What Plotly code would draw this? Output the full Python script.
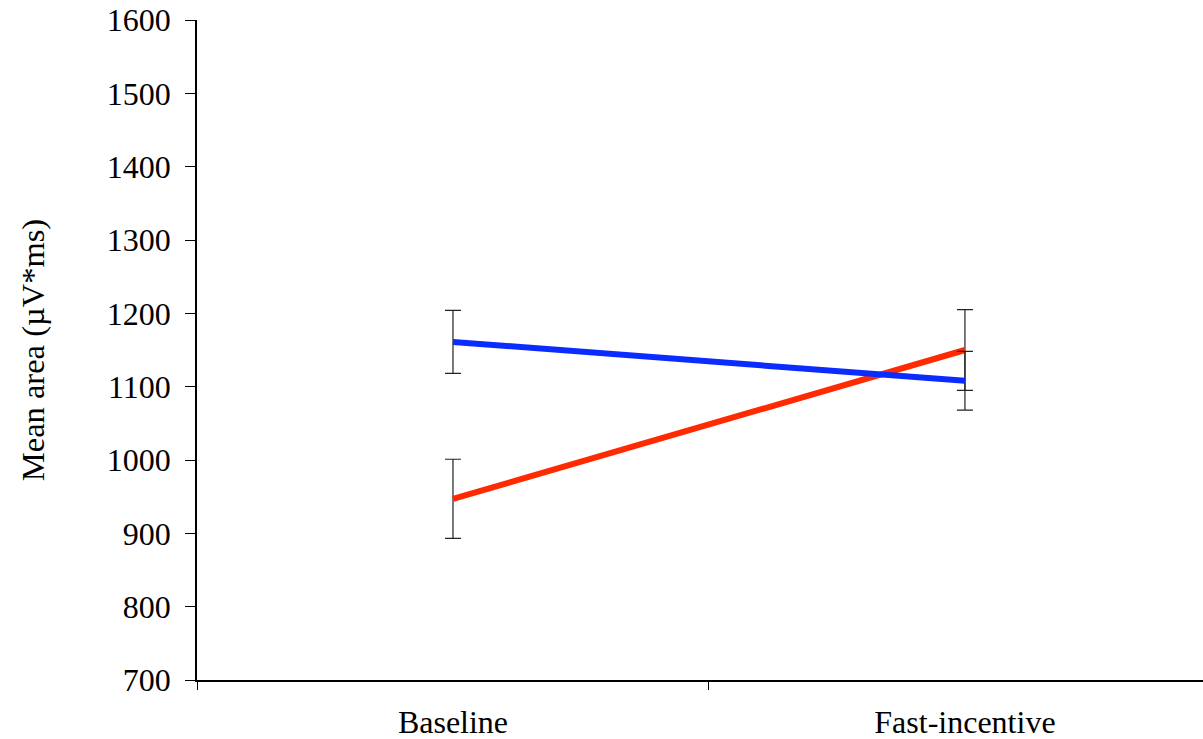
import plotly.graph_objects as go

categories = ["Baseline", "Fast-incentive"]
blue_vals = [1161, 1108]
blue_err = [43, 40]
red_vals = [947, 1150]
red_err = [54, 55]
y_ticks = [700, 800, 900, 1000, 1100, 1200, 1300, 1400, 1500, 1600]

font_family = "Liberation Serif"

fig = go.Figure()
for vals, err, color in [(red_vals, red_err, "#ff2a00"), (blue_vals, blue_err, "#0a2cff")]:
    fig.add_trace(go.Scatter(
        x=categories, y=vals, mode="lines",
        line=dict(color=color, width=6),
        error_y=dict(type="data", array=err, visible=True, color="#222222",
                     thickness=1.2, width=8),
        showlegend=False,
    ))

fig.update_layout(
    width=1203, height=739,
    margin=dict(l=197, r=0, t=20, b=59),
    paper_bgcolor="white", plot_bgcolor="white",
    font=dict(family=font_family, color="black"),
)
fig.update_xaxes(
    type="category", range=[-0.5, 1.465], automargin=False,
    showline=True, linecolor="black", linewidth=1.5,
    ticks="outside", tickson="boundaries", ticklen=8, tickcolor="black",
    tickfont=dict(size=32, family=font_family), showgrid=False,
    ticklabelstandoff=13, ticklabeloverflow="allow",
)
fig.update_yaxes(
    range=[700, 1600], tickvals=y_ticks, automargin=False,
    showline=True, linecolor="black", linewidth=1.5,
    ticks="outside", ticklen=10, tickcolor="black",
    tickfont=dict(size=32, family=font_family), showgrid=False, zeroline=False,
    ticklabelstandoff=8, ticklabeloverflow="allow",
    title=dict(text="Mean area (µV*ms)", font=dict(size=32.5, family=font_family), standoff=52),
)
fig.write_html(
    "out.html",
    config={"displayModeBar": False},
    post_script="document.body.style.margin='0';document.documentElement.style.overflow='hidden';",
)
